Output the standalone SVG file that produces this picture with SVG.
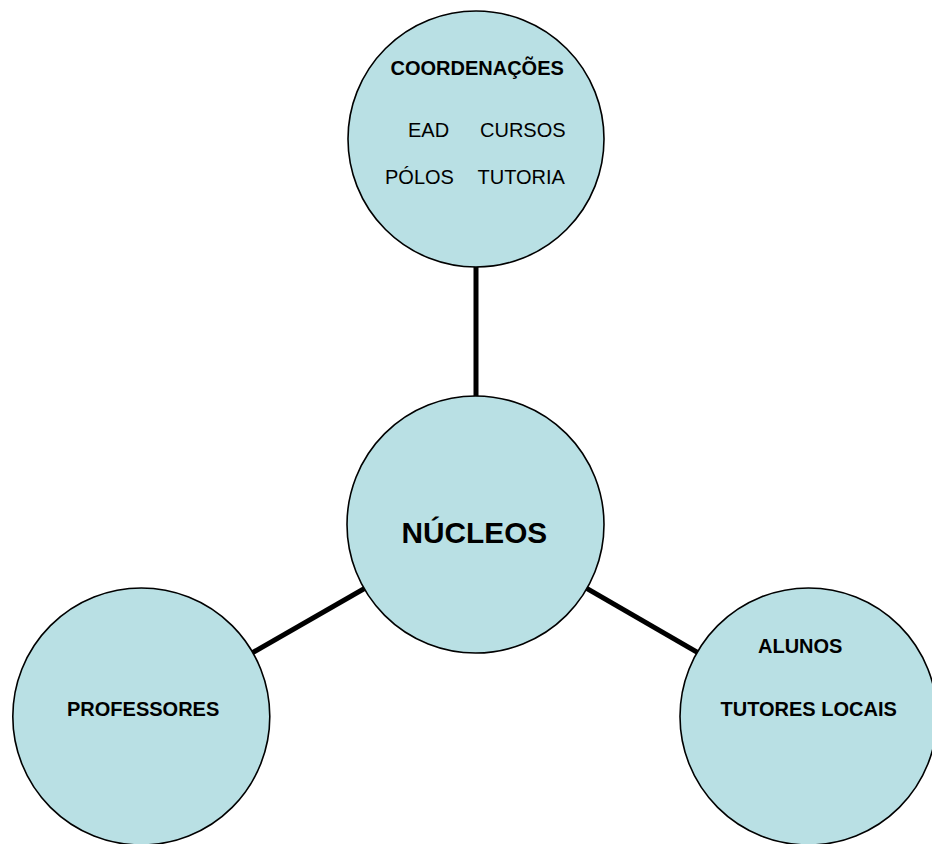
<svg xmlns="http://www.w3.org/2000/svg" width="932" height="844" viewBox="0 0 932 844">
<style>
.node{fill:#B9E0E4;stroke:#000;stroke-width:1.6}
.conn{stroke:#000;stroke-width:5;fill:none}
text{font-family:"Liberation Sans",Arial,sans-serif;fill:#000}
.b{font-weight:bold;font-size:20px}
.r{font-size:20px}
.big{font-weight:bold;font-size:29.8px}
</style>
<rect width="932" height="844" fill="#fff"/>
<g id="connectors">
<line class="conn" x1="476" y1="139" x2="476" y2="524.5"/>
<line class="conn" x1="141.3" y1="716.5" x2="476" y2="524.5"/>
<line class="conn" x1="476" y1="524.5" x2="808.5" y2="716.5"/>
</g>
<g id="coordenacoes">
<circle class="node" cx="476" cy="139" r="128"/>
<text class="b" x="390.5" y="74.5">COORDENAÇÕES</text>
<text class="r" x="408" y="136.5">EAD</text>
<text class="r" x="480" y="136.5">CURSOS</text>
<text class="r" x="385" y="183.5">PÓLOS</text>
<text class="r" x="477.5" y="183.5">TUTORIA</text>
</g>
<g id="nucleos">
<circle class="node" cx="475.5" cy="524.5" r="128.5"/>
<text class="big" x="401.5" y="542.5">NÚCLEOS</text>
</g>
<g id="professores">
<circle class="node" cx="141.3" cy="716.5" r="128.5"/>
<text class="b" x="67" y="715.5">PROFESSORES</text>
</g>
<g id="alunos">
<circle class="node" cx="808.5" cy="716.5" r="128.5"/>
<text class="b" x="758" y="652.5">ALUNOS</text>
<text class="b" x="720.5" y="715.5">TUTORES LOCAIS</text>
</g>
</svg>
